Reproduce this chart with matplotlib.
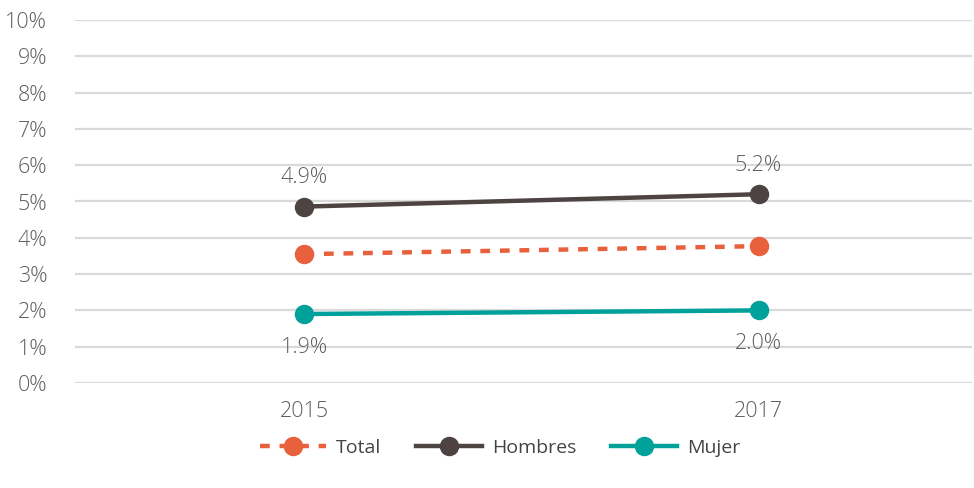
import matplotlib
matplotlib.use("Agg")
import matplotlib.pyplot as plt
from matplotlib.ticker import FuncFormatter

years = ["2015", "2017"]
total = [3.55, 3.77]
hombres = [4.86, 5.2]
mujer = [1.9, 2.0]

plt.rcParams['font.family'] = ['Open Sans', 'DejaVu Sans']
txt = "#5f5f5f"

fig = plt.figure(figsize=(9.74, 4.88), dpi=100)
ax = fig.add_axes([75/974, 1-383/488, 897/974, 363/488])

x = list(range(len(years)))
ax.plot(x, total, color="#E8603C", lw=3.2, ls=(0, (2.2, 2.2)), marker="o", ms=13, label="Total", zorder=3)
ax.plot(x, hombres, color="#4E4343", lw=3.2, marker="o", ms=13, label="Hombres", zorder=3)
ax.plot(x, mujer, color="#00A19A", lw=3.2, marker="o", ms=13, label="Mujer", zorder=3)

for xi, v in zip(x, hombres):
    ax.annotate(f"{v:.1f}%", (xi, v), xytext=(0, 21), textcoords="offset points",
                ha="center", va="center", color=txt, fontsize=15.5, fontweight="light")
for xi, v in zip(x, mujer):
    ax.annotate(f"{v:.1f}%", (xi, v), xytext=(0, -24), textcoords="offset points",
                ha="center", va="center", color=txt, fontsize=15.5, fontweight="light")

ax.set_ylim(0, 10)
ax.set_yticks(range(0, 11))
ax.yaxis.set_major_formatter(FuncFormatter(lambda v, p: f"{int(v)}%"))
ax.set_xlim(-0.505, 1.47)
ax.set_xticks(x)
ax.set_xticklabels(years)
ax.grid(axis="y", color="#DADADA", lw=1.6)
ax.set_axisbelow(True)
for s in ax.spines.values():
    s.set_visible(False)
ax.tick_params(axis="both", length=0, colors=txt, labelsize=15.5)
ax.tick_params(axis="y", pad=20)
ax.tick_params(axis="x", pad=13)
for lab in ax.get_xticklabels() + ax.get_yticklabels():
    lab.set_fontweight("light")

leg = fig.legend(loc="center", bbox_to_anchor=(500/974, 1-448/488), ncol=3, frameon=False,
                 fontsize=14, handlelength=3.4, columnspacing=1.8, handletextpad=0.5)
for t in leg.get_texts():
    t.set_color("#444444")

fig.savefig("out.png", dpi=100)
